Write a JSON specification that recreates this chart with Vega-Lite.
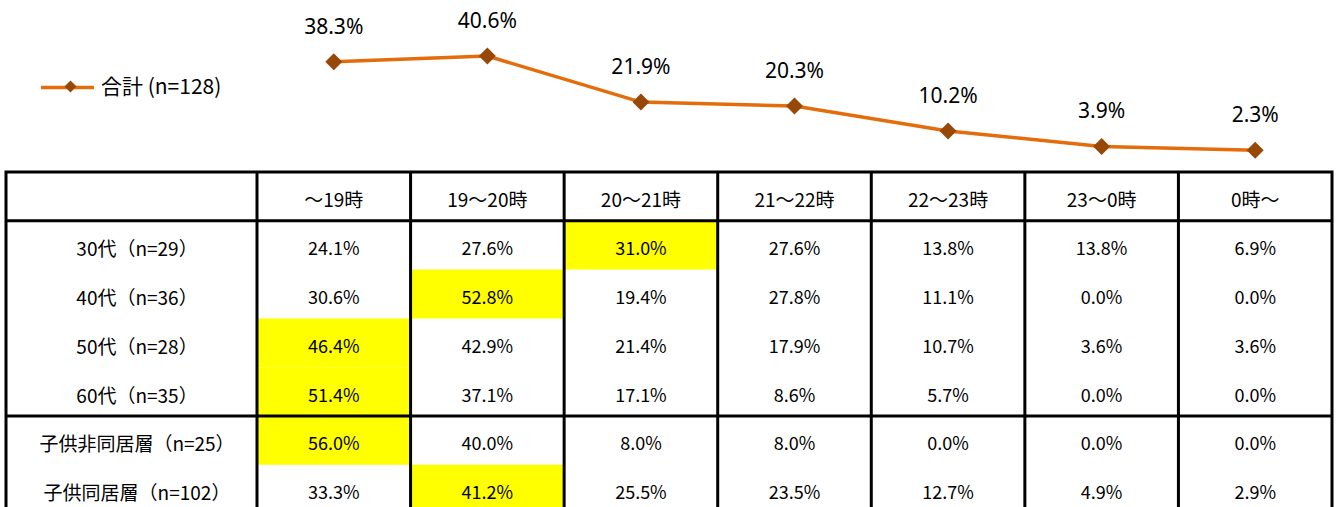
{
  "$schema": "https://vega.github.io/schema/vega-lite/v6.json",
  "padding": {"left": 3, "top": 0, "right": 0, "bottom": 0},
  "background": "white",
  "bounds": "flush",
  "spacing": 16,
  "config": {"view": {"stroke": null}, "font": "Noto Sans CJK JP"},
  "datasets": {
    "total": [
      {"time": "～19時", "value": 0.383, "series": "合計 (n=128)", "marker": "合計 (n=128)"},
      {"time": "19～20時", "value": 0.406, "series": "合計 (n=128)", "marker": "合計 (n=128)"},
      {"time": "20～21時", "value": 0.219, "series": "合計 (n=128)", "marker": "合計 (n=128)"},
      {"time": "21～22時", "value": 0.203, "series": "合計 (n=128)", "marker": "合計 (n=128)"},
      {"time": "22～23時", "value": 0.102, "series": "合計 (n=128)", "marker": "合計 (n=128)"},
      {"time": "23～0時", "value": 0.039, "series": "合計 (n=128)", "marker": "合計 (n=128)"},
      {"time": "0時～", "value": 0.023, "series": "合計 (n=128)", "marker": "合計 (n=128)"}
    ],
    "times": [
      {"time": "～19時"}, {"time": "19～20時"}, {"time": "20～21時"}, {"time": "21～22時"},
      {"time": "22～23時"}, {"time": "23～0時"}, {"time": "0時～"}
    ],
    "hlines": [{"row": "30代（n=29）"}, {"row": "子供非同居層（n=25）"}],
    "table": [
      {"row": "30代（n=29）", "time": "～19時", "value": 0.241},
      {"row": "30代（n=29）", "time": "19～20時", "value": 0.276},
      {"row": "30代（n=29）", "time": "20～21時", "value": 0.310},
      {"row": "30代（n=29）", "time": "21～22時", "value": 0.276},
      {"row": "30代（n=29）", "time": "22～23時", "value": 0.138},
      {"row": "30代（n=29）", "time": "23～0時", "value": 0.138},
      {"row": "30代（n=29）", "time": "0時～", "value": 0.069},
      {"row": "40代（n=36）", "time": "～19時", "value": 0.306},
      {"row": "40代（n=36）", "time": "19～20時", "value": 0.528},
      {"row": "40代（n=36）", "time": "20～21時", "value": 0.194},
      {"row": "40代（n=36）", "time": "21～22時", "value": 0.278},
      {"row": "40代（n=36）", "time": "22～23時", "value": 0.111},
      {"row": "40代（n=36）", "time": "23～0時", "value": 0.0},
      {"row": "40代（n=36）", "time": "0時～", "value": 0.0},
      {"row": "50代（n=28）", "time": "～19時", "value": 0.464},
      {"row": "50代（n=28）", "time": "19～20時", "value": 0.429},
      {"row": "50代（n=28）", "time": "20～21時", "value": 0.214},
      {"row": "50代（n=28）", "time": "21～22時", "value": 0.179},
      {"row": "50代（n=28）", "time": "22～23時", "value": 0.107},
      {"row": "50代（n=28）", "time": "23～0時", "value": 0.036},
      {"row": "50代（n=28）", "time": "0時～", "value": 0.036},
      {"row": "60代（n=35）", "time": "～19時", "value": 0.514},
      {"row": "60代（n=35）", "time": "19～20時", "value": 0.371},
      {"row": "60代（n=35）", "time": "20～21時", "value": 0.171},
      {"row": "60代（n=35）", "time": "21～22時", "value": 0.086},
      {"row": "60代（n=35）", "time": "22～23時", "value": 0.057},
      {"row": "60代（n=35）", "time": "23～0時", "value": 0.0},
      {"row": "60代（n=35）", "time": "0時～", "value": 0.0},
      {"row": "子供非同居層（n=25）", "time": "～19時", "value": 0.560},
      {"row": "子供非同居層（n=25）", "time": "19～20時", "value": 0.400},
      {"row": "子供非同居層（n=25）", "time": "20～21時", "value": 0.080},
      {"row": "子供非同居層（n=25）", "time": "21～22時", "value": 0.080},
      {"row": "子供非同居層（n=25）", "time": "22～23時", "value": 0.0},
      {"row": "子供非同居層（n=25）", "time": "23～0時", "value": 0.0},
      {"row": "子供非同居層（n=25）", "time": "0時～", "value": 0.0},
      {"row": "子供同居層（n=102）", "time": "～19時", "value": 0.333},
      {"row": "子供同居層（n=102）", "time": "19～20時", "value": 0.412},
      {"row": "子供同居層（n=102）", "time": "20～21時", "value": 0.255},
      {"row": "子供同居層（n=102）", "time": "21～22時", "value": 0.235},
      {"row": "子供同居層（n=102）", "time": "22～23時", "value": 0.127},
      {"row": "子供同居層（n=102）", "time": "23～0時", "value": 0.049},
      {"row": "子供同居層（n=102）", "time": "0時～", "value": 0.029}
    ]
  },
  "vconcat": [
    {
      "width": 1326,
      "height": 156,
      "view": {"stroke": null},
      "data": {"name": "total"},
      "encoding": {
        "x": {
          "field": "time", "type": "nominal", "sort": null,
          "scale": {"type": "band", "domain": ["～19時", "19～20時", "20～21時", "21～22時", "22～23時", "23～0時", "0時～"], "paddingInner": 0, "paddingOuter": 0.8172, "align": 1},
          "axis": null
        },
        "y": {"field": "value", "type": "quantitative", "scale": {"domain": [0, 0.634], "nice": false, "zero": false}, "axis": null}
      },
      "layer": [
        {
          "mark": {"type": "line", "strokeWidth": 3.5},
          "encoding": {
            "stroke": {
              "field": "series", "type": "nominal",
              "scale": {"range": ["#E46C0A"]},
              "legend": {"orient": "none", "legendX": 33, "legendY": 59, "title": null, "symbolType": "stroke", "symbolSize": 2809, "symbolStrokeWidth": 3.5, "labelFont": "Noto Sans CJK JP", "labelFontSize": 21, "labelOffset": 5, "labelColor": "black"}
            }
          }
        },
        {
          "mark": {"type": "point", "shape": "diamond", "filled": true, "size": 289, "opacity": 1, "strokeWidth": 0},
          "encoding": {
            "fill": {
              "field": "marker", "type": "nominal",
              "scale": {"range": ["#974706"]},
              "legend": {"orient": "none", "legendX": 54, "legendY": 76, "title": null, "symbolType": "diamond", "symbolSize": 144, "symbolStrokeWidth": 0, "symbolOpacity": 1, "labelFontSize": 21, "labelExpr": "''"}
            }
          }
        },
        {
          "mark": {"type": "text", "dy": -34, "font": "Noto Sans", "fontSize": 21, "color": "black"},
          "encoding": {"text": {"field": "value", "type": "quantitative", "format": ".1%"}}
        }
      ]
    },
    {
      "width": 1326,
      "height": 341.6,
      "view": {"stroke": "black", "strokeWidth": 3},
      "layer": [
        {
          "data": {"name": "table"},
          "transform": [
            {"joinaggregate": [{"op": "max", "field": "value", "as": "maxv"}], "groupby": ["row"]},
            {"filter": "datum.value == datum.maxv"}
          ],
          "mark": {"type": "rect", "color": "#FFFF00"},
          "encoding": {
            "x": {"field": "time", "type": "nominal", "sort": null, "scale": {"type": "band", "domain": ["～19時", "19～20時", "20～21時", "21～22時", "22～23時", "23～0時", "0時～"], "paddingInner": 0, "paddingOuter": 0.8172, "align": 1}, "axis": null},
            "y": {
              "field": "row", "type": "nominal", "sort": null,
              "scale": {"type": "band", "domain": ["header", "30代（n=29）", "40代（n=36）", "50代（n=28）", "60代（n=35）", "子供非同居層（n=25）", "子供同居層（n=102）"], "paddingInner": 0, "paddingOuter": 0},
              "axis": {"orient": "left", "domain": false, "ticks": false, "tickSize": 0, "grid": false, "title": null, "labelPadding": -130.5, "labelAlign": "center", "labelBaseline": "middle", "labelOffset": 5, "labelFont": "Noto Sans CJK JP", "labelFontSize": 19, "labelColor": "black", "labelLimit": 0, "labelOverlap": false, "labelExpr": "datum.value == 'header' ? '' : datum.value"}
            }
          }
        },
        {
          "data": {"name": "table"},
          "mark": {"type": "text", "fontSize": 18, "font": "Noto Sans CJK JP", "color": "black", "dy": 5},
          "encoding": {
            "x": {"field": "time", "type": "nominal", "sort": null, "scale": {"type": "band", "domain": ["～19時", "19～20時", "20～21時", "21～22時", "22～23時", "23～0時", "0時～"], "paddingInner": 0, "paddingOuter": 0.8172, "align": 1}, "axis": null},
            "y": {"field": "row", "type": "nominal", "sort": null, "scale": {"type": "band", "domain": ["header", "30代（n=29）", "40代（n=36）", "50代（n=28）", "60代（n=35）", "子供非同居層（n=25）", "子供同居層（n=102）"], "paddingInner": 0, "paddingOuter": 0}},
            "text": {"field": "value", "type": "quantitative", "format": ".1%"}
          }
        },
        {
          "data": {"name": "times"},
          "mark": {"type": "text", "fontSize": 19, "font": "Noto Sans CJK JP", "color": "black", "dy": 5},
          "encoding": {
            "x": {"field": "time", "type": "nominal", "sort": null, "scale": {"type": "band", "domain": ["～19時", "19～20時", "20～21時", "21～22時", "22～23時", "23～0時", "0時～"], "paddingInner": 0, "paddingOuter": 0.8172, "align": 1}, "axis": null},
            "y": {"datum": "header", "type": "nominal"},
            "text": {"field": "time", "type": "nominal"}
          }
        },
        {
          "data": {"name": "times"},
          "mark": {"type": "rule", "color": "black", "strokeWidth": 3},
          "encoding": {
            "x": {"field": "time", "type": "nominal", "sort": null, "bandPosition": 0, "scale": {"type": "band", "domain": ["～19時", "19～20時", "20～21時", "21～22時", "22～23時", "23～0時", "0時～"], "paddingInner": 0, "paddingOuter": 0.8172, "align": 1}, "axis": null}
          }
        },
        {
          "data": {"name": "hlines"},
          "mark": {"type": "rule", "color": "black", "strokeWidth": 3},
          "encoding": {
            "y": {"field": "row", "type": "nominal", "sort": null, "bandPosition": 0, "scale": {"type": "band", "domain": ["header", "30代（n=29）", "40代（n=36）", "50代（n=28）", "60代（n=35）", "子供非同居層（n=25）", "子供同居層（n=102）"], "paddingInner": 0, "paddingOuter": 0}}
          }
        }
      ]
    }
  ]
}
